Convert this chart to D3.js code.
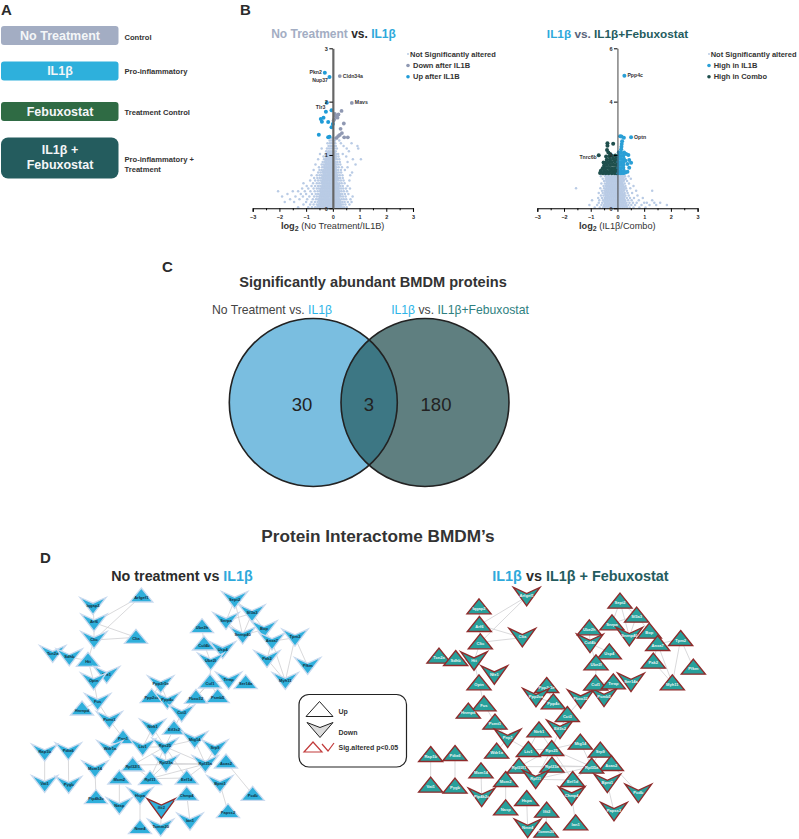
<!DOCTYPE html>
<html>
  <head>
    <meta charset="utf-8" />
    <title>BMDM proteomics figure</title>
    <style>
      body {
        margin: 0;
        background: #fff;
      }
      svg text {
        font-family: "Liberation Sans", Arial, sans-serif;
      }
    </style>
  </head>
  <body>
    <script src="https://cdn.jsdelivr.net/npm/d3@7"></script>
    <svg class="canvas"></svg>
    <script>
      // ---------------- panel A ----------------
      const groupNames = [["No Treatment"], ["IL1β"], ["Febuxostat"], ["IL1β +", "Febuxostat"]];
      const groupRoles = [["Control"], ["Pro-inflammatory"], ["Treatment Control"], ["Pro-inflammatory +", "Treatment"]];

      // ---------------- panel B, values ----------------
      const volcanoXTicks = [-3, -2, -1, 0, 1, 2, 3];
      const volcano1YTicks = [0, 1, 2, 3];
      const volcano2YTicks = [0, 2, 4, 6];

      // rows of [-log10 p, [log2 fold changes]]
      const notSig1Rows = [
        [0.02, [-1.3, -0.92, -0.78, -0.66, -0.58, -0.5, -0.43, -0.36, -0.3, -0.24, -0.18, -0.12, -0.06, 0.01, 0.07, 0.13, 0.2, 0.27, 0.34, 0.42, 0.52]],
        [0.07, [-1.1, -0.85, -0.72, -0.6, -0.53, -0.46, -0.39, -0.33, -0.27, -0.2, -0.14, -0.08, -0.02, 0.04, 0.1, 0.17, 0.23, 0.31, 0.38, 0.47, 0.62]],
        [0.12, [-1.8, -1.45, -1.0, -0.8, -0.67, -0.57, -0.49, -0.42, -0.35, -0.28, -0.22, -0.16, -0.1, -0.04, 0.03, 0.09, 0.15, 0.22, 0.29, 0.36, 0.44, 0.56, 0.7]],
        [0.17, [-1.6, -1.25, -0.96, -0.75, -0.63, -0.55, -0.47, -0.4, -0.33, -0.26, -0.19, -0.13, -0.07, -0.01, 0.06, 0.12, 0.18, 0.25, 0.33, 0.41, 0.5, 0.66]],
        [0.22, [-1.9, -1.4, -1.12, -0.88, -0.7, -0.6, -0.51, -0.44, -0.37, -0.3, -0.23, -0.17, -0.1, -0.03, 0.03, 0.1, 0.16, 0.23, 0.3, 0.38, 0.48, 0.74]],
        [0.27, [-1.7, -1.2, -1.0, -0.78, -0.64, -0.55, -0.47, -0.4, -0.33, -0.26, -0.2, -0.14, -0.07, 0, 0.07, 0.13, 0.2, 0.27, 0.35, 0.45, 0.58]],
        [0.32, [-2.05, -1.5, -1.3, -1.05, -0.84, -0.68, -0.57, -0.49, -0.42, -0.35, -0.28, -0.21, -0.15, -0.08, -0.02, 0.05, 0.11, 0.18, 0.25, 0.32, 0.41, 0.53]],
        [0.37, [-1.15, -0.92, -0.72, -0.6, -0.52, -0.44, -0.37, -0.3, -0.23, -0.17, -0.1, -0.03, 0.04, 0.1, 0.17, 0.24, 0.31, 0.39, 0.49, 0.64]],
        [0.42, [-0.98, -0.8, -0.66, -0.55, -0.47, -0.4, -0.33, -0.26, -0.19, -0.13, -0.06, 0, 0.07, 0.14, 0.21, 0.28, 0.37, 0.55]],
        [0.47, [-1.1, -0.74, -0.6, -0.51, -0.43, -0.36, -0.29, -0.22, -0.15, -0.09, -0.02, 0.05, 0.11, 0.18, 0.25, 0.33, 0.44]],
        [0.52, [-0.85, -0.66, -0.55, -0.46, -0.39, -0.32, -0.25, -0.18, -0.11, -0.05, 0.02, 0.08, 0.15, 0.22, 0.3, 0.4, 0.62]],
        [0.57, [-0.7, -0.58, -0.49, -0.42, -0.35, -0.28, -0.21, -0.14, -0.08, -0.01, 0.05, 0.12, 0.19, 0.27, 0.37]],
        [0.62, [-0.8, -0.6, -0.5, -0.43, -0.36, -0.29, -0.22, -0.15, -0.09, -0.02, 0.05, 0.11, 0.18, 0.26, 0.36, 0.65]],
        [0.67, [-0.55, -0.46, -0.39, -0.32, -0.25, -0.18, -0.11, -0.05, 0.02, 0.08, 0.15, 0.22, 0.31, 0.72]],
        [0.72, [-0.72, -0.5, -0.42, -0.35, -0.28, -0.21, -0.14, -0.08, -0.01, 0.06, 0.12, 0.2, 0.3, 0.45]],
        [0.77, [-0.52, -0.4, -0.33, -0.26, -0.19, -0.12, -0.06, 0.01, 0.07, 0.14, 0.22, 0.34, 0.55]],
        [0.82, [-0.65, -0.42, -0.35, -0.28, -0.21, -0.14, -0.08, -0.01, 0.05, 0.12, 0.19, 0.28, 0.85]],
        [0.87, [-0.38, -0.3, -0.23, -0.16, -0.1, -0.03, 0.04, 0.1, 0.17, 0.26, 0.55]],
        [0.92, [-0.55, -0.33, -0.26, -0.19, -0.12, -0.05, 0.01, 0.08, 0.15, 0.24, 0.75, 1.05]],
        [0.97, [-0.35, -0.27, -0.2, -0.13, -0.07, 0, 0.06, 0.13, 0.21, 0.5]],
        [1.02, [-0.48, -0.28, -0.21, -0.14, -0.08, -0.01, 0.05, 0.12, 0.2, 0.37]],
        [1.07, [-0.25, -0.17, -0.1, -0.03, 0.04, 0.11, 0.6]],
        [1.12, [-0.42, -0.22, -0.14, -0.07, 0, 0.07, 0.15, 0.52, 0.95]],
        [1.17, [-0.16, -0.09, -0.03, 0.04, 0.11, 0.4, 0.92]],
        [1.22, [-0.2, -0.11, -0.05, 0.02, 0.09, 0.7, 0.3]],
        [1.27, [-0.12, -0.06, 0.01, 0.08, 0.24]],
        [1.32, [-0.05, 0.03, 0.1]],
        // the packed middle of the cloud
        [0.045, [-0.55, -0.47, -0.41, -0.34, -0.28, -0.21, -0.15, -0.09, -0.03, 0.03, 0.09, 0.16, 0.24, 0.29]],
        [0.095, [-0.5, -0.44, -0.37, -0.31, -0.24, -0.18, -0.12, -0.06, 0, 0.07, 0.13, 0.19, 0.27]],
        [0.145, [-0.52, -0.45, -0.38, -0.31, -0.25, -0.19, -0.13, -0.07, -0.01, 0.05, 0.11, 0.18, 0.26]],
        [0.195, [-0.49, -0.42, -0.35, -0.29, -0.22, -0.16, -0.09, -0.04, 0.02, 0.08, 0.14, 0.21]],
        [0.245, [-0.47, -0.41, -0.34, -0.27, -0.21, -0.14, -0.08, -0.02, 0.05, 0.11, 0.18, 0.26]],
        [0.295, [-0.44, -0.37, -0.31, -0.24, -0.17, -0.11, -0.05, 0.02, 0.08, 0.15, 0.22]],
        [0.345, [-0.46, -0.39, -0.32, -0.25, -0.19, -0.12, -0.06, 0, 0.07, 0.13, 0.2]],
        [0.395, [-0.41, -0.34, -0.27, -0.2, -0.14, -0.07, -0.01, 0.06, 0.12, 0.19]],
        [0.445, [-0.38, -0.31, -0.24, -0.17, -0.11, -0.04, 0.02, 0.09, 0.15, 0.22]],
        [0.495, [-0.4, -0.33, -0.26, -0.2, -0.13, -0.07, 0, 0.06, 0.13]],
        [0.545, [-0.37, -0.3, -0.23, -0.16, -0.1, -0.03, 0.03, 0.1, 0.17]],
        [0.595, [-0.38, -0.32, -0.25, -0.18, -0.12, -0.05, 0.02, 0.08, 0.15]],
        [0.645, [-0.34, -0.27, -0.2, -0.14, -0.07, 0, 0.06, 0.13]],
        [0.695, [-0.36, -0.3, -0.23, -0.16, -0.1, -0.03, 0.03, 0.1]],
        [0.745, [-0.3, -0.24, -0.17, -0.1, -0.04, 0.03, 0.1]],
        [0.795, [-0.31, -0.24, -0.17, -0.11, -0.04, 0.02, 0.09]],
        [0.845, [-0.26, -0.19, -0.13, -0.06, 0.01, 0.08]],
        [0.895, [-0.27, -0.21, -0.14, -0.08, -0.01, 0.05]],
        [0.945, [-0.23, -0.16, -0.1, -0.03, 0.04, 0.1]],
        [0.995, [-0.24, -0.17, -0.11, -0.04, 0.02, 0.08]],
        [1.045, [-0.19, -0.13, -0.06, 0.01, 0.07]],
      ];
      const notSig2Rows = [
        [0.03, [-0.85, -0.66, -0.54, -0.45, -0.37, -0.28, -0.2, -0.12, -0.04, 0.04, 0.11, 0.19, 0.27, 0.36, 0.46, 0.6, 0.82, 1.05]],
        [0.12, [-1.05, -0.76, -0.6, -0.5, -0.41, -0.33, -0.25, -0.17, -0.09, -0.02, 0.06, 0.14, 0.22, 0.31, 0.41, 0.52, 0.66, 0.9, 1.2, 1.45, 1.85]],
        [0.21, [-0.7, -0.57, -0.47, -0.38, -0.3, -0.22, -0.14, -0.06, 0.01, 0.09, 0.17, 0.25, 0.34, 0.45, 0.58, 0.72, 1.0, 1.1, 1.38, 1.6]],
        [0.3, [-0.95, -0.68, -0.54, -0.44, -0.36, -0.27, -0.19, -0.11, -0.03, 0.05, 0.12, 0.2, 0.29, 0.4, 0.53, 0.8, 1.3]],
        [0.39, [-0.72, -0.58, -0.48, -0.39, -0.31, -0.23, -0.15, -0.07, 0.01, 0.09, 0.17, 0.25, 0.35, 0.47, 0.62, 0.95]],
        [0.48, [-0.62, -0.52, -0.43, -0.35, -0.26, -0.18, -0.1, -0.03, 0.05, 0.13, 0.21, 0.3, 0.42, 0.75]],
        [0.57, [-0.7, -0.55, -0.46, -0.38, -0.3, -0.22, -0.14, -0.06, 0.02, 0.1, 0.18, 0.27, 0.38, 0.55]],
        [0.66, [-0.58, -0.49, -0.41, -0.33, -0.25, -0.17, -0.09, -0.01, 0.07, 0.15, 0.24, 0.35, 0.7, 1.3]],
        [0.75, [-1.55, -0.64, -0.5, -0.42, -0.34, -0.26, -0.18, -0.1, -0.02, 0.06, 0.14, 0.22, 0.32, 0.48]],
        [0.84, [-0.52, -0.44, -0.36, -0.28, -0.2, -0.12, -0.04, 0.04, 0.12, 0.2, 0.3, 0.6]],
        [0.93, [-0.6, -0.47, -0.39, -0.31, -0.23, -0.15, -0.07, 0.01, 0.09, 0.17, 0.27, 0.43]],
        [1.02, [-0.5, -0.42, -0.34, -0.26, -0.18, -0.1, -0.02, 0.06, 0.14, 0.23, 0.36]],
        [1.11, [-0.55, -0.44, -0.36, -0.28, -0.2, -0.12, -0.04, 0.04, 0.12, 0.2, 0.31, 0.5]],
        [1.2, [-0.62, -0.46, -0.38, -0.3, -0.22, -0.14, -0.06, 0.02, 0.1, 0.18, 0.28, 0.42]],
        [1.27, [-0.5, -0.4, -0.32, -0.24, -0.16, -0.08, 0, 0.08, 0.16, 0.25]],
        // the packed middle of the cloud
        [0.075, [-0.5, -0.42, -0.35, -0.27, -0.2, -0.12, -0.05, 0.03, 0.1, 0.18, 0.26, 0.34]],
        [0.165, [-0.47, -0.39, -0.31, -0.24, -0.16, -0.08, -0.01, 0.07, 0.15, 0.22, 0.3]],
        [0.255, [-0.49, -0.41, -0.34, -0.26, -0.18, -0.1, -0.03, 0.05, 0.12, 0.2, 0.28]],
        [0.345, [-0.46, -0.38, -0.3, -0.22, -0.15, -0.07, 0.01, 0.09, 0.16, 0.24]],
        [0.435, [-0.44, -0.36, -0.28, -0.21, -0.13, -0.05, 0.03, 0.1, 0.18, 0.26]],
        [0.525, [-0.45, -0.37, -0.29, -0.22, -0.14, -0.06, 0.02, 0.09, 0.17, 0.24]],
        [0.615, [-0.43, -0.35, -0.27, -0.2, -0.12, -0.04, 0.04, 0.11, 0.19]],
        [0.705, [-0.44, -0.36, -0.28, -0.21, -0.13, -0.05, 0.03, 0.1, 0.18, 0.26]],
        [0.795, [-0.4, -0.32, -0.24, -0.16, -0.08, 0, 0.08, 0.16, 0.24]],
        [0.885, [-0.41, -0.33, -0.25, -0.17, -0.09, -0.02, 0.06, 0.13, 0.21]],
        [0.975, [-0.38, -0.3, -0.22, -0.14, -0.06, 0.02, 0.1, 0.18]],
        [1.065, [-0.4, -0.32, -0.24, -0.16, -0.08, 0, 0.08, 0.16, 0.25]],
        [1.155, [-0.41, -0.33, -0.25, -0.17, -0.09, -0.01, 0.07, 0.15, 0.23]],
      ];

      // [log2 fold change, -log10 p, label]
      const up1Points = [[-0.3, 2.54, "Pkn2"], [-0.125, 2.46, "Nup37"], [-0.225, 1.98, "Tlr3"], [-0.05, 1.84], [-0.26, 1.81], [-0.35, 1.7], [-0.45, 1.675], [-0.41, 1.625], [-0.175, 1.62], [0, 1.58], [-0.05, 1.52], [-0.525, 1.38], [-0.125, 1.34], [-0.175, 1.33]];
      const down1Points = [[0.26, 2.48, "Cldn34a"], [0.71, 1.975, "Mavs"], [0.325, 1.825], [0.075, 1.77], [0.21, 1.76], [0.125, 1.72], [0.05, 1.67], [0.175, 1.7], [0.1, 1.74], [0.025, 1.64], [0.41, 1.59], [0.29, 1.49], [0.34, 1.41], [0.26, 1.375], [0.2, 1.355], [0.14, 1.32], [0.425, 1.33], [0.56, 1.33]];

      const highIL1Points = [[0.26, 4.975, "Ppp4c"], [0.51, 2.66, "Optn"], [0.1, 2.7], [0.15, 2.69], [0.24, 2.65], [0.175, 2.51], [0.16, 2.41], [0.15, 2.31], [0.14, 2.21], [0.41, 2.0], [0.44, 1.81], [0.51, 1.71], [0.375, 1.66], [0.44, 1.52], [0.375, 1.37], [0.325, 2.04], [0.25, 2.09], [0.05, 2.1], [0.14, 2.08],
        [0.04, 1.98], [0.13, 1.96], [0.22, 1.97], [0.05, 1.86], [0.14, 1.85], [0.24, 1.86], [0.04, 1.74], [0.13, 1.73], [0.22, 1.75], [0.3, 1.78], [0.05, 1.62], [0.14, 1.62], [0.23, 1.63], [0.04, 1.51], [0.13, 1.5], [0.22, 1.52], [0.05, 1.4], [0.14, 1.39], [0.24, 1.41], [0.3, 1.34], [0.04, 1.31], [0.13, 1.31], [0.22, 1.31]];
      const highComboPoints = [[-0.7, 1.99, "Tnrc6b"], [-0.16, 2.42], [-0.375, 2.44], [-0.375, 2.35], [-0.39, 2.19], [-0.34, 2.09], [-0.275, 2.04], [-0.425, 1.94], [-0.3, 1.95], [-0.2, 1.96], [-0.08, 1.98],
        [-0.52, 1.72], [-0.4, 1.82], [-0.28, 1.84], [-0.16, 1.86], [-0.05, 1.88], [-0.45, 1.71], [-0.33, 1.73], [-0.22, 1.74], [-0.1, 1.76], [-0.03, 1.74], [-0.5, 1.6], [-0.39, 1.62], [-0.27, 1.62], [-0.15, 1.63], [-0.05, 1.62], [-0.55, 1.5], [-0.44, 1.5], [-0.33, 1.51], [-0.21, 1.5], [-0.1, 1.5], [-0.02, 1.49], [-0.62, 1.41], [-0.5, 1.4], [-0.39, 1.39], [-0.27, 1.41], [-0.15, 1.4], [-0.05, 1.39], [-0.65, 1.32], [-0.55, 1.31], [-0.44, 1.31], [-0.33, 1.31], [-0.21, 1.31], [-0.1, 1.31], [-0.03, 1.31]];

      // ---------------- panel C ----------------
      const vennCounts = [30, 3, 180];

      // ---------------- panel D, node positions in picture layout units ----------------
      // [name, layout x, layout y, direction]
      const nodesNoTreatment = [
        ["Iqgap2", 279, 168, "d"], ["Arfgef1", 424, 138, "u"], ["Arf6", 282, 218, "d"], ["Cltc", 282, 270, "d"], ["Clta", 408, 262, "u"],
        ["Tcn2a", 158, 312, "d"], ["Sdhb", 208, 322, "d"], ["Htt", 264, 331, "u"], ["Nfe1", 320, 375, "d"], ["Optn", 281, 394, "d"],
        ["Fus", 293, 456, "d"], ["Hnrnpd", 246, 477, "u"], ["Pcmt1", 328, 510, "d"], ["Pnp1", 369, 563, "u"], ["Wdr1a", 330, 597, "d"],
        ["Ltv1", 428, 592, "d"], ["Ntrk1", 458, 533, "d"], ["Eif3s2", 522, 535, "u"], ["Rps25", 495, 590, "d"], ["Mtg14", 584, 570, "d"],
        ["Srp9", 645, 595, "d"], ["Acas2", 678, 636, "u"], ["Rpl32l1", 398, 645, "u"], ["Rpl23a", 498, 640, "d"], ["Rpl35a", 616, 642, "d"],
        ["Rpl11", 450, 686, "u"], ["Eef1d", 560, 684, "u"], ["Mcm2", 358, 684, "u"], ["Mcm14", 285, 658, "d"], ["Pip4k2c", 288, 743, "u"],
        ["Rap1b", 134, 608, "d"], ["Pdia6", 205, 604, "d"], ["Vat1", 134, 702, "d"], ["Pygb", 206, 705, "d"], ["Nasp", 358, 768, "d"],
        ["Hspa", 420, 738, "d"], ["Ifit2", 484, 775, "d"], ["Chmp4", 560, 733, "u"], ["Ian1", 570, 815, "d"], ["Nme4", 420, 833, "u"],
        ["Tomm20", 482, 833, "d"], ["Bpnt1", 660, 702, "d"], ["Papss2", 684, 785, "u"], ["Pcdb", 758, 733, "u"], ["Ppp2r5e", 482, 403, "d"],
        ["Ppp2ca", 455, 440, "u"], ["Ppp4c", 502, 452, "d"], ["Fbxo32", 588, 442, "u"], ["Psmb5", 653, 440, "u"], ["Cul1", 630, 396, "u"],
        ["Trrap", 686, 392, "d"], ["Ser14a", 737, 398, "u"], ["Cct3", 545, 490, "d"], ["Ube2h", 606, 230, "u"], ["Cul4b", 612, 282, "u"],
        ["Usp4", 668, 300, "d"], ["Ube2l", 632, 335, "d"], ["Sept2", 704, 150, "d"], ["Snrpa", 678, 213, "d"], ["Sf3a3", 756, 190, "d"],
        ["Snrnp40", 728, 256, "d"], ["Bop", 792, 238, "d"], ["Anxa7", 816, 274, "d"], ["Pak2", 801, 327, "d"], ["Myh11", 856, 393, "d"],
        ["Tpm2", 885, 263, "d"], ["Pfkm", 923, 348, "d"],
      ];
      const nodesCombo = [
        ["Iqgap2", 237, 172, "u"], ["Arfgef1", 380, 140, "d"], ["Arf6", 238, 225, "u"], ["Cltc", 241, 277, "u"], ["Clta", 367, 263, "d"],
        ["Tcn2a", 117, 320, "u"], ["Sdhb", 167, 327, "u"], ["Htt", 222, 333, "d"], ["Nfe1", 283, 375, "d"], ["Optn", 237, 400, "u"],
        ["Fus", 252, 463, "u"], ["Hnrnpd", 205, 485, "u"], ["Pcmt1", 285, 518, "u"], ["Pnp1", 323, 565, "d"], ["Wdr1a", 290, 605, "u"],
        ["Ltv1", 385, 600, "u"], ["Ntrk1", 417, 541, "u"], ["Eif3s2", 480, 538, "d"], ["Rps25", 455, 597, "u"], ["Mtg14", 541, 578, "u"],
        ["Srp9", 601, 602, "u"], ["Acas2", 634, 642, "u"], ["Rpl32l1", 357, 650, "u"], ["Rpl23a", 456, 647, "u"], ["Rpl35a", 575, 650, "u"],
        ["Rpl11", 407, 688, "d"], ["Eef1d", 518, 690, "u"], ["Mcm2", 317, 690, "u"], ["Mcm14", 243, 664, "u"], ["Pip4k2c", 245, 742, "d"],
        ["Rap1b", 92, 615, "u"], ["Pdia6", 165, 612, "u"], ["Vat1", 92, 707, "u"], ["Pygb", 165, 710, "u"], ["Nasp", 317, 775, "u"],
        ["Hspa", 380, 747, "u"], ["Ifit2", 440, 782, "u"], ["Chmp4", 515, 738, "d"], ["Ian1", 527, 820, "u"], ["Nme4", 383, 835, "d"],
        ["Tomm20", 438, 842, "u"], ["Bpnt1", 622, 700, "d"], ["Papss2", 642, 785, "d"], ["Pcdb", 715, 730, "d"], ["Ppp2r5e", 440, 408, "u"],
        ["Ppp2ca", 408, 443, "d"], ["Ppp4c", 460, 457, "u"], ["Fbxo32", 542, 447, "d"], ["Psmb5", 612, 442, "d"], ["Cul1", 587, 401, "u"],
        ["Trrap", 640, 397, "u"], ["Ser14a", 693, 397, "d"], ["Cct3", 502, 495, "u"], ["Ube2h", 568, 235, "u"], ["Cul4b", 570, 280, "d"],
        ["Usp4", 628, 307, "u"], ["Ube2l", 588, 340, "u"], ["Sept2", 660, 155, "u"], ["Snrpa", 636, 220, "u"], ["Sf3a3", 710, 197, "u"],
        ["Snrnp40", 688, 260, "d"], ["Bop", 748, 245, "u"], ["Anxa7", 773, 282, "u"], ["Pak2", 760, 335, "u"], ["Myh11", 817, 400, "u"],
        ["Tpm2", 842, 267, "u"], ["Pfkm", 880, 353, "u"],
      ];
      const interactions = [
        ["Arfgef1", "Arf6"], ["Arfgef1", "Cltc"], ["Arf6", "Clta"], ["Cltc", "Clta"], ["Iqgap2", "Arf6"], ["Arf6", "Cltc"], ["Cltc", "Htt"],
        ["Sdhb", "Htt"], ["Htt", "Optn"], ["Nfe1", "Htt"], ["Optn", "Fus"], ["Fus", "Hnrnpd"], ["Fus", "Pcmt1"], ["Pcmt1", "Pnp1"], ["Pnp1", "Wdr1a"],
        ["Pnp1", "Ltv1"], ["Ltv1", "Ntrk1"], ["Ltv1", "Rps25"], ["Ntrk1", "Rps25"], ["Eif3s2", "Rps25"], ["Rps25", "Mtg14"], ["Rps25", "Rpl32l1"], ["Rps25", "Rpl23a"],
        ["Rps25", "Rpl35a"], ["Rps25", "Rpl11"], ["Rps25", "Eef1d"], ["Mtg14", "Rpl35a"], ["Srp9", "Rpl35a"], ["Rpl32l1", "Rpl35a"], ["Rpl23a", "Rpl35a"],
        ["Rpl11", "Rpl35a"], ["Rpl11", "Eef1d"], ["Rpl32l1", "Rpl11"], ["Rpl23a", "Rpl11"], ["Rpl35a", "Eef1d"], ["Acas2", "Pcdb"], ["Mcm14", "Pip4k2c"],
        ["Mcm2", "Nasp"], ["Rap1b", "Vat1"], ["Pdia6", "Pygb"], ["Hspa", "Nme4"], ["Ifit2", "Tomm20"], ["Chmp4", "Ian1"], ["Bpnt1", "Papss2"],
        ["Ppp2r5e", "Ppp4c"], ["Ppp2ca", "Ppp4c"], ["Ppp2r5e", "Ppp2ca"], ["Ppp4c", "Cct3"], ["Cct3", "Eif3s2"], ["Cct3", "Cul1"], ["Cul1", "Fbxo32"],
        ["Cul1", "Psmb5"], ["Cul1", "Trrap"], ["Cul1", "Ube2l"], ["Ube2l", "Cul4b"], ["Cul4b", "Usp4"], ["Cul4b", "Ube2h"], ["Sept2", "Snrpa"], ["Sept2", "Sf3a3"],
        ["Sept2", "Snrnp40"], ["Snrpa", "Sf3a3"], ["Snrpa", "Snrnp40"], ["Sf3a3", "Snrnp40"], ["Sf3a3", "Bop"], ["Snrnp40", "Bop"], ["Bop", "Anxa7"],
        ["Anxa7", "Pak2"], ["Anxa7", "Myh11"], ["Anxa7", "Tpm2"], ["Pak2", "Myh11"], ["Tpm2", "Myh11"], ["Tpm2", "Pfkm"],
      ];
      const networkLegendItems = ["Up", "Down", "Sig.altered p<0.05"];

      const BLUE = "#2ea9db";
      const GREY = "#a3adc3";
      const TEAL = "#245c5e";
      const INK = "#2b2b2b";
      const NS_BLUE = "#b9cbe5";
      const SIG_RED = "#8f2b2b";

      const svg = d3.select(".canvas").attr("width", 799).attr("height", 839);

      function letter(t, x, y) {
        svg.append("text").attr("x", x).attr("y", y).attr("font-size", 15).attr("font-weight", "bold").attr("fill", INK).text(t);
      }

      // several coloured runs in one text element
      function runs(x, y, size, weight, anchor, parts) {
        const t = svg.append("text").attr("x", x).attr("y", y).attr("font-size", size).attr("font-weight", weight).attr("text-anchor", anchor);
        parts.forEach((p) => t.append("tspan").attr("fill", p[1]).text(p[0]));
        return t;
      }

      //----------------panel A----------------
      letter("A", 1, 15);
      const boxTops = [26, 61.5, 102, 137.5];
      const boxHeights = [19, 19, 19, 41];
      const boxColors = [GREY, "#2eb0dc", "#2f6b44", "#245c5e"];
      const roleY = [39.5, 74, 115, 162];

      groupNames.forEach((lines, i) => {
        svg.append("rect").attr("x", 1).attr("y", boxTops[i]).attr("width", 117.5).attr("height", boxHeights[i])
          .attr("rx", i === 3 ? 7 : 3).attr("fill", boxColors[i]);
        lines.forEach((l, j) => {
          svg.append("text").attr("x", 60).attr("y", boxTops[i] + (i === 3 ? 16.5 : 13.5) + j * 14.7)
            .attr("text-anchor", "middle").attr("font-size", 12.5).attr("font-weight", "bold").attr("fill", "#f4f6f8").text(l);
        });
        groupRoles[i].forEach((l, j) => {
          svg.append("text").attr("x", 124.5).attr("y", roleY[i] + j * 9.5).attr("font-size", 7.6).attr("font-weight", "bold").attr("fill", "#333").text(l);
        });
      });

      //----------------panel B----------------
      letter("B", 240, 15);

      function volcano(o) {
        const x = d3.scaleLinear().domain([-3, 3]).range([o.left, o.left + 160.3]);
        const y = d3.scaleLinear().domain(o.yDomain).range([208.3, 48.3]);
        const g = svg.append("g");
        const notSig = o.rows.flatMap((r) => r[1].map((v) => [v, r[0]]));

        g.append("g").selectAll("circle").data(notSig).join("circle")
          .attr("cx", (d) => x(d[0])).attr("cy", (d) => y(d[1])).attr("r", 1.25).attr("fill", NS_BLUE);

        // minor ticks under the labelled ones
        g.append("g").attr("transform", `translate(0,${y(0)})`)
          .call(d3.axisBottom(x).tickValues(d3.range(-2.5, 3, 1)).tickSize(2).tickFormat(""))
          .call((a) => a.select(".domain").remove());
        const ax = g.append("g").attr("transform", `translate(0,${y(0)})`)
          .call(d3.axisBottom(x).tickValues(volcanoXTicks).tickSize(3.5).tickPadding(3).tickFormat(d3.format("d")));
        ax.select(".domain").attr("stroke-width", 1.1);
        ax.selectAll("text").attr("font-size", 5.5).attr("font-weight", "bold").attr("fill", INK);

        o.series.forEach((s) => {
          g.append("g").selectAll("circle").data(s.points).join("circle")
            .attr("cx", (d) => x(d[0])).attr("cy", (d) => y(d[1])).attr("r", s.r).attr("fill", s.color);
        });

        const ay = g.append("g").attr("transform", `translate(${x(0)},0)`)
          .call(d3.axisLeft(y).tickValues(o.yTicks).tickSize(3.5).tickPadding(1.5).tickSizeOuter(0).tickFormat(d3.format("d")));
        ay.select(".domain").attr("stroke", o.axisColor).attr("stroke-width", o.axisWidth);
        ay.selectAll("text").attr("font-size", 5.5).attr("font-weight", "bold").attr("fill", INK);

        // named proteins
        o.series.forEach((s) => {
          s.points.filter((d) => d[2]).forEach((d) => {
            const off = o.labelOffsets[d[2]];
            g.append("text").attr("x", x(d[0]) + off[0]).attr("y", y(d[1]) + off[1]).attr("text-anchor", off[2])
              .attr("font-size", 5.2).attr("font-weight", "bold").attr("fill", "#333").text(d[2]);
          });
        });

        // axis title with subscript
        const t = svg.append("text").attr("x", o.left + 80).attr("y", 229).attr("text-anchor", "middle").attr("font-size", 9.2).attr("fill", "#333");
        t.append("tspan").attr("font-weight", "bold").text("log");
        t.append("tspan").attr("font-weight", "bold").attr("font-size", 7).attr("dy", 2).text("2");
        t.append("tspan").attr("dy", -2).text(" " + o.xTitle);
      }

      volcano({
        left: 252.7, yDomain: [0, 3], rows: notSig1Rows, yTicks: volcano1YTicks, axisColor: "#666", axisWidth: 2.2, xTitle: "(No Treatment/IL1B)",
        series: [{ points: down1Points, color: "#8f98b2", r: 1.9 }, { points: up1Points, color: "#1f9bd7", r: 2 }],
        labelOffsets: { Pkn2: [-3, 1.5, "end"], Nup37: [-1.5, 4.5, "end"], Tlr3: [-1.5, 6, "end"], Cldn34a: [3, 2, "start"], Mavs: [3, 1, "start"] },
      });
      volcano({
        left: 537.3, yDomain: [0, 6], rows: notSig2Rows, yTicks: volcano2YTicks, axisColor: "#444", axisWidth: 1, xTitle: "(IL1β/Combo)",
        series: [{ points: highComboPoints, color: "#1f4f4d", r: 2 }, { points: highIL1Points, color: "#2a9fd6", r: 2 }],
        labelOffsets: { Ppp4c: [3, 1.5, "start"], Optn: [3, 1.5, "start"], Tnrc6b: [-2, 3.5, "end"] },
      });

      runs(333.5, 38, 12, "bold", "middle", [["No Treatment", GREY], [" vs. ", INK], ["IL1β", BLUE]]);
      runs(617.5, 38, 11.8, "bold", "middle", [["IL1β", BLUE], [" vs. ", "#59637a"], ["IL1β+Febuxostat", TEAL]]);

      const legend1 = [["Not Significantly altered", NS_BLUE, 1], ["Down after IL1B", "#8f98b2", 1.8], ["Up after IL1B", "#1f9bd7", 1.8]];
      const legend2 = [["Not Significantly altered", NS_BLUE, 1], ["High in IL1B", "#2a9fd6", 1.8], ["High in Combo", "#1f4f4d", 1.8]];
      function volcanoLegend(items, dotX, textX) {
        const rowY = [54, 65.5, 76.7];
        items.forEach((it, i) => {
          svg.append("circle").attr("cx", dotX).attr("cy", rowY[i]).attr("r", it[2]).attr("fill", it[1]);
          svg.append("text").attr("x", textX + (i === 0 ? -3 : 0)).attr("y", rowY[i] + 2.6).attr("font-size", 7.5).attr("font-weight", "bold").attr("fill", "#333").text(it[0]);
        });
      }
      volcanoLegend(legend1, 408, 413);
      volcanoLegend(legend2, 709, 713.7);

      //----------------panel C----------------
      letter("C", 162, 272);
      runs(373, 287, 14.6, "bold", "middle", [["Significantly abundant BMDM proteins", "#333"]]);
      runs(272, 314, 12.2, "normal", "middle", [["No Treatment vs. ", "#444"], ["IL1β", "#2db4e8"]]);
      runs(460, 314, 12.2, "normal", "middle", [["IL1β", "#2db4e8"], [" vs. ", "#444"], ["IL1β+Febuxostat", "#2f7f80"]]);

      const vennX = [313.3, 425];
      const vennY = 402.5;
      const vennR = 84;
      const defs = svg.append("defs");
      defs.append("clipPath").attr("id", "vennA").append("circle").attr("cx", vennX[0]).attr("cy", vennY).attr("r", vennR);
      svg.append("circle").attr("cx", vennX[0]).attr("cy", vennY).attr("r", vennR).attr("fill", "#7abee0");
      svg.append("circle").attr("cx", vennX[1]).attr("cy", vennY).attr("r", vennR).attr("fill", "#5f7f80");
      svg.append("circle").attr("clip-path", "url(#vennA)").attr("cx", vennX[1]).attr("cy", vennY).attr("r", vennR).attr("fill", "#3d7784");
      vennX.forEach((cx) => {
        svg.append("circle").attr("cx", cx).attr("cy", vennY).attr("r", vennR).attr("fill", "none").attr("stroke", "#222").attr("stroke-width", 1.6);
      });
      const vennLabelX = [302, 369, 436];
      vennCounts.forEach((c, i) => {
        svg.append("text").attr("x", vennLabelX[i]).attr("y", 411).attr("text-anchor", "middle").attr("font-size", 18.5).attr("fill", "#222").text(c);
      });

      //----------------panel D----------------
      runs(378, 541.5, 17.2, "bold", "middle", [["Protein Interactome BMDM’s", "#333"]]);
      letter("D", 40, 563);
      runs(182, 581, 14.3, "bold", "middle", [["No treatment vs ", INK], ["IL1β", BLUE]]);
      runs(580.5, 581, 14.4, "bold", "middle", [["IL1β", BLUE], [" vs ", INK], ["IL1β + Febuxostat", TEAL]]);

      const line = d3.line();
      function upShape(w, h) {
        return line([[0, -h / 2], [w / 2, h / 2], [-w / 2, h / 2]]) + "Z";
      }
      function downShape(w, h) {
        return line([[-w / 2, -h / 2], [0, -h / 6], [w / 2, -h / 2], [0, h / 2]]) + "Z";
      }

      function network(nodes, o) {
        const x = d3.scaleLinear().domain([0, 870]).range([o.originX, o.originX + 290]);
        const y = d3.scaleLinear().domain([0, 867]).range([550, 839]);
        const byName = new Map(nodes.map((n) => [n[0], n]));
        const g = svg.append("g");

        g.append("g").selectAll("line").data(interactions).join("line")
          .attr("x1", (d) => x(byName.get(d[0])[1])).attr("y1", (d) => y(byName.get(d[0])[2]))
          .attr("x2", (d) => x(byName.get(d[1])[1])).attr("y2", (d) => y(byName.get(d[1])[2]))
          .attr("stroke", "#cfcfd2").attr("stroke-width", 0.8);

        const node = g.append("g").selectAll("g").data(nodes).join("g")
          .attr("transform", (d) => `translate(${x(d[1])},${y(d[2])})`);
        node.append("path")
          .attr("d", (d) => {
            if (d[3] === "u") return upShape(o.upW, o.upH);
            return o.sigNames.includes(d[0]) ? downShape(o.downW * 1.1, o.downH * 1.15) : downShape(o.downW, o.downH);
          })
          .attr("transform", (d) => `translate(0,${d[3] === "u" ? -1 : 0})`)
          .attr("fill", o.fill)
          .attr("stroke", (d) => (o.sigNames.includes(d[0]) ? SIG_RED : o.stroke))
          .attr("stroke-width", (d) => (o.sigNames.includes(d[0]) ? 1.4 : 1.3))
          .attr("stroke-linejoin", "miter");
        node.append("text").attr("y", (d) => (d[3] === "u" ? 2.5 : 0.5)).attr("text-anchor", "middle")
          .attr("font-size", 4.1).attr("font-weight", "bold").attr("fill", o.labelColor).text((d) => d[0]);
      }

      network(nodesNoTreatment, { originX: 0, upW: 23, upH: 14, downW: 26, downH: 17, fill: "#2fafdb", stroke: "#c9daef", labelColor: "#14303c", sigNames: ["Ifit2"] });
      network(nodesCombo, { originX: 400, upW: 24, upH: 15, downW: 24, downH: 16, fill: "#27a09b", stroke: SIG_RED, labelColor: "#eaf6f5", sigNames: nodesCombo.map((n) => n[0]) });

      // network key
      svg.append("rect").attr("x", 299).attr("y", 694.5).attr("width", 107.5).attr("height", 72.5).attr("rx", 10).attr("fill", "#fff").attr("stroke", "#222").attr("stroke-width", 1.2);
      svg.append("path").attr("d", upShape(27, 15)).attr("transform", "translate(319.5,709)").attr("fill", "#fff").attr("stroke", "#222").attr("stroke-width", 1);
      svg.append("path").attr("d", downShape(26, 15)).attr("transform", "translate(320,730)").attr("fill", "#dcdcdc").attr("stroke", "#222").attr("stroke-width", 1);
      svg.append("path").attr("d", upShape(18, 10)).attr("transform", "translate(313,747)").attr("fill", "#fff").attr("stroke", "#c23b3b").attr("stroke-width", 1.2);
      svg.append("path").attr("d", line([[-6, -4], [0, 3], [6, -5]])).attr("transform", "translate(328,748)").attr("fill", "none").attr("stroke", "#c23b3b").attr("stroke-width", 1.2);
      const legendTextY = [713.5, 734.5, 749.5];
      networkLegendItems.forEach((t, i) => {
        svg.append("text").attr("x", 338.5).attr("y", legendTextY[i]).attr("font-size", 7).attr("font-weight", "bold").attr("fill", "#333").text(t);
      });
    </script>
  </body>
</html>
